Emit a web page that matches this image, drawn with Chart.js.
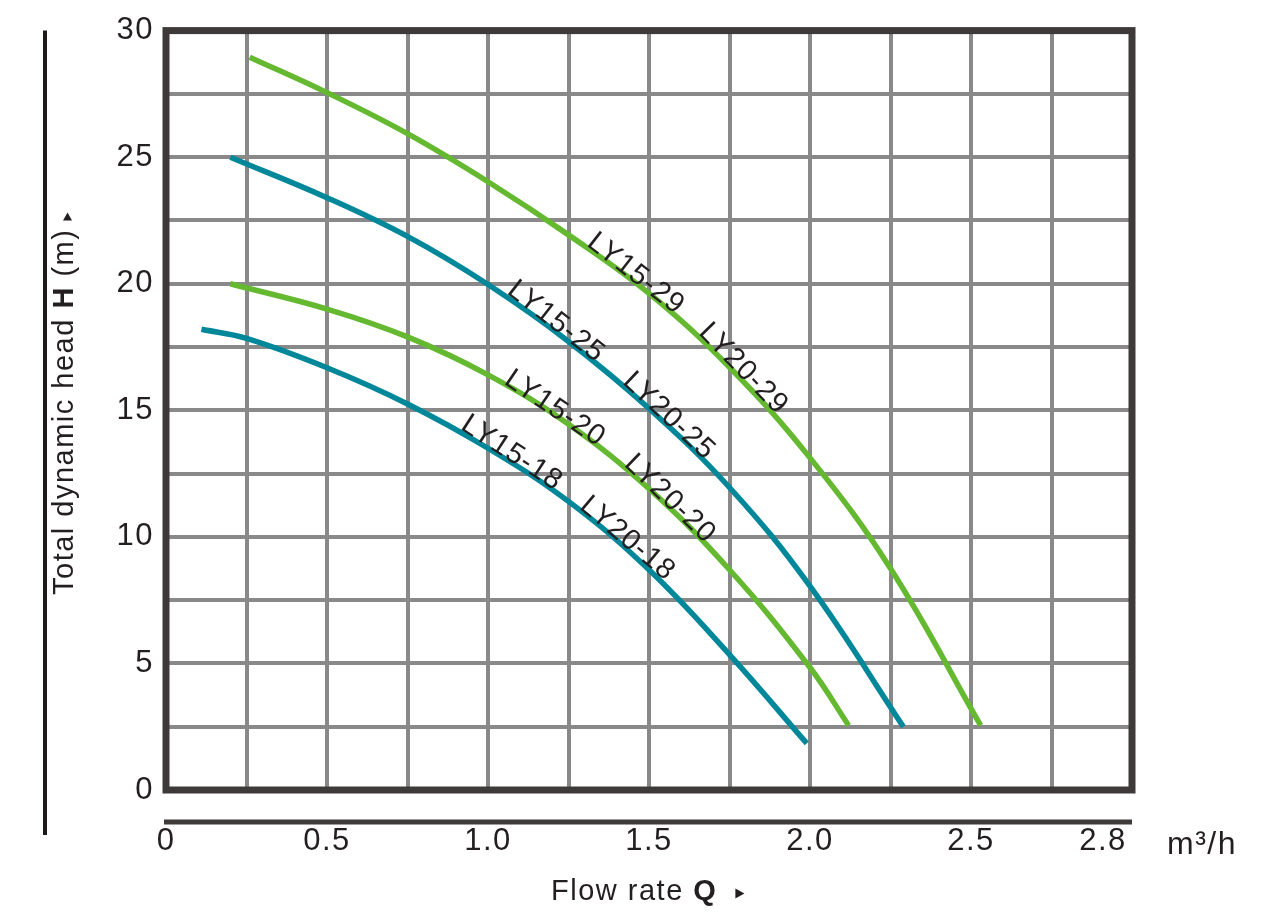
<!DOCTYPE html>
<html>
<head>
<meta charset="utf-8">
<script src="https://cdn.jsdelivr.net/npm/chart.js@4.4.1/dist/chart.umd.min.js"></script>
<style>
html,body{margin:0;padding:0;background:#ffffff;}
#wrap{width:1272px;height:919px;position:relative;}
</style>
</head>
<body>
<div id="wrap"><canvas id="c" width="1272" height="919"></canvas></div>
<script>
// ---------- DATA ----------
const seriesNames = ['LY15-18 / LY20-18', 'LY15-20 / LY20-20', 'LY15-25 / LY20-25', 'LY15-29 / LY20-29'];

const flow18 = [0.11, 0.25, 0.5, 0.75, 1.0, 1.25, 1.5, 1.75, 1.99];
const head18 = [18.2, 17.84, 16.68, 15.25, 13.5, 11.4, 8.7, 5.35, 1.84];

const flow20 = [0.2, 0.5, 0.75, 1.0, 1.25, 1.5, 1.75, 2.0, 2.12];
const head20 = [20.0, 19.0, 17.9, 16.4, 14.45, 11.9, 8.7, 4.84, 2.55];

const flow25 = [0.2, 0.5, 0.75, 1.0, 1.25, 1.5, 1.75, 2.0, 2.29];
const head25 = [25.0, 23.4, 21.87, 19.97, 17.72, 15.07, 11.95, 8.05, 2.5];

const flow29 = [0.26, 0.5, 0.75, 1.0, 1.25, 1.5, 1.75, 2.0, 2.25, 2.53];
const head29 = [28.95, 27.55, 25.93, 24.03, 21.93, 19.62, 16.7, 13.12, 8.75, 2.55];

const xTickValues = [0, 0.5, 1.0, 1.5, 2.0, 2.5, 2.91];
const xTickLabels = ['0', '0.5', '1.0', '1.5', '2.0', '2.5', '2.8'];
const yTickValues = [0, 5, 10, 15, 20, 25, 30];
const yTickLabels = ['0', '5', '10', '15', '20', '25', '30'];

const curveLabelTexts = ['LY15-18', 'LY20-18', 'LY15-20', 'LY20-20', 'LY15-25', 'LY20-25', 'LY15-29', 'LY20-29'];
const curveLabelFlow  = [1.074, 1.433, 1.208, 1.565, 1.211, 1.562, 1.459, 1.793];
const curveLabelHead  = [13.31, 9.93, 15.07, 11.50, 18.50, 14.77, 20.39, 16.64];
const curveLabelAngle = [33, 40, 34, 44, 38, 43, 38, 46];

// ---------- STYLE ----------
const TEAL = '#00889A';
const GREEN = '#65B930';
const GRID = '#898989';
const FRAME = '#3e3a39';
const TEXT = '#231f20';
const FONT = "'Liberation Sans', Arial, Helvetica, sans-serif";

function pts(fx, hy) { return fx.map((q, i) => ({x: q, y: hy[i]})); }
function ds(label, fx, hy, color) {
  return {label, data: pts(fx, hy), borderColor: color, backgroundColor: color,
    borderWidth: 5.5, pointRadius: 0, pointHoverRadius: 0, fill: false,
    tension: 0.4, borderCapStyle: 'butt'};
}

const decor = {
  id: 'decor',
  beforeDraw(chart) {
    chart.ctx.letterSpacing = '1.5px';
  },
  afterDatasetsDraw(chart) {
    const {ctx, chartArea: a, scales: {x, y}} = chart;
    ctx.save();
    // frame
    ctx.strokeStyle = FRAME;
    ctx.lineWidth = 7;
    ctx.strokeRect(a.left, a.top, a.right - a.left, a.bottom - a.top);
    // separate x axis line
    ctx.lineWidth = 5;
    ctx.beginPath();
    ctx.moveTo(a.left - 2, a.bottom + 32);
    ctx.lineTo(a.right, a.bottom + 32);
    ctx.stroke();
    // separate y axis line
    ctx.strokeStyle = '#1e1a1a';
    ctx.lineWidth = 4;
    ctx.beginPath();
    ctx.moveTo(45, a.top);
    ctx.lineTo(45, a.bottom + 45);
    ctx.stroke();

    ctx.fillStyle = TEXT;
    // curve labels
    ctx.letterSpacing = '1px';
    ctx.font = '29px ' + FONT;
    ctx.textAlign = 'center';
    ctx.textBaseline = 'middle';
    curveLabelTexts.forEach((t, i) => {
      const px = x.getPixelForValue(curveLabelFlow[i]);
      const py = y.getPixelForValue(curveLabelHead[i]);
      ctx.save();
      ctx.translate(px, py);
      ctx.rotate(curveLabelAngle[i] * Math.PI / 180);
      ctx.fillText(t, 0, 0);
      ctx.restore();
    });

    // y title
    ctx.letterSpacing = '1.5px';
    ctx.textAlign = 'left';
    ctx.textBaseline = 'alphabetic';
    ctx.save();
    ctx.translate(73, 595);
    ctx.rotate(-Math.PI / 2);
    let cx = 0;
    const parts = [['Total dynamic head ', 'normal'], ['H', 'bold'], [' (m)', 'normal']];
    parts.forEach(([s, w]) => {
      ctx.font = w + ' 29px ' + FONT;
      ctx.fillText(s, cx, 0);
      cx += ctx.measureText(s).width;
    });
    cx += 8;
    ctx.beginPath();
    ctx.moveTo(cx, -10);
    ctx.lineTo(cx + 8, -5.5);
    ctx.lineTo(cx, -1);
    ctx.closePath();
    ctx.fill();
    ctx.restore();

    // x title
    let tx = 551;
    const xparts = [['Flow rate ', 'normal'], ['Q', 'bold']];
    xparts.forEach(([s, w]) => {
      ctx.font = w + ' 29px ' + FONT;
      ctx.fillText(s, tx, 900);
      tx += ctx.measureText(s).width;
    });
    tx += 18;
    ctx.beginPath();
    ctx.moveTo(tx, 888.5);
    ctx.lineTo(tx + 9, 893.5);
    ctx.lineTo(tx, 898.5);
    ctx.closePath();
    ctx.fill();

    // unit
    ctx.letterSpacing = '1.5px';
    ctx.font = '32px ' + FONT;
    ctx.fillText('m³/h', 1167, 854);
    ctx.restore();
  }
};

new Chart(document.getElementById('c'), {
  type: 'line',
  data: {
    datasets: [
      ds(seriesNames[0], flow18, head18, TEAL),
      ds(seriesNames[1], flow20, head20, GREEN),
      ds(seriesNames[2], flow25, head25, TEAL),
      ds(seriesNames[3], flow29, head29, GREEN)
    ]
  },
  options: {
    responsive: false,
    devicePixelRatio: 1,
    animation: false,
    events: [],
    layout: {padding: {top: 25, right: 140, left: 0, bottom: 0}},
    plugins: {legend: {display: false}, tooltip: {enabled: false}, title: {display: false}},
    scales: {
      x: {
        type: 'linear', min: 0, max: 3,
        afterBuildTicks(s) {
          const t = [];
          for (let i = 0; i <= 12; i++) t.push({value: i * 0.25});
          t.push({value: xTickValues[xTickValues.length - 1]});
          s.ticks = t;
        },
        afterFit(s) { s.height = 129; },
        border: {display: false},
        grid: {
          drawTicks: false, lineWidth: 4,
          color: (c) => (c.tick && Math.abs(c.tick.value - 2.91) < 1e-6) ? 'rgba(0,0,0,0)' : GRID
        },
        ticks: {
          autoSkip: false, maxRotation: 0, minRotation: 0, padding: 33,
          color: TEXT, font: {family: FONT, size: 31, lineHeight: 1.2},
          callback: (v) => {
            const i = xTickValues.findIndex(q => Math.abs(q - v) < 1e-6);
            return i >= 0 ? xTickLabels[i] : '';
          }
        }
      },
      y: {
        type: 'linear', min: 0, max: 30,
        afterFit(s) { s.width = 166; },
        border: {display: false},
        grid: {drawTicks: false, lineWidth: 4, color: GRID},
        ticks: {
          stepSize: 2.5, autoSkip: false, padding: 12,
          color: TEXT, font: {family: FONT, size: 31, lineHeight: 1.2},
          callback: (v) => {
            const i = yTickValues.indexOf(v);
            return i >= 0 ? yTickLabels[i] : '';
          }
        }
      }
    }
  },
  plugins: [decor]
});
</script>
</body>
</html>
